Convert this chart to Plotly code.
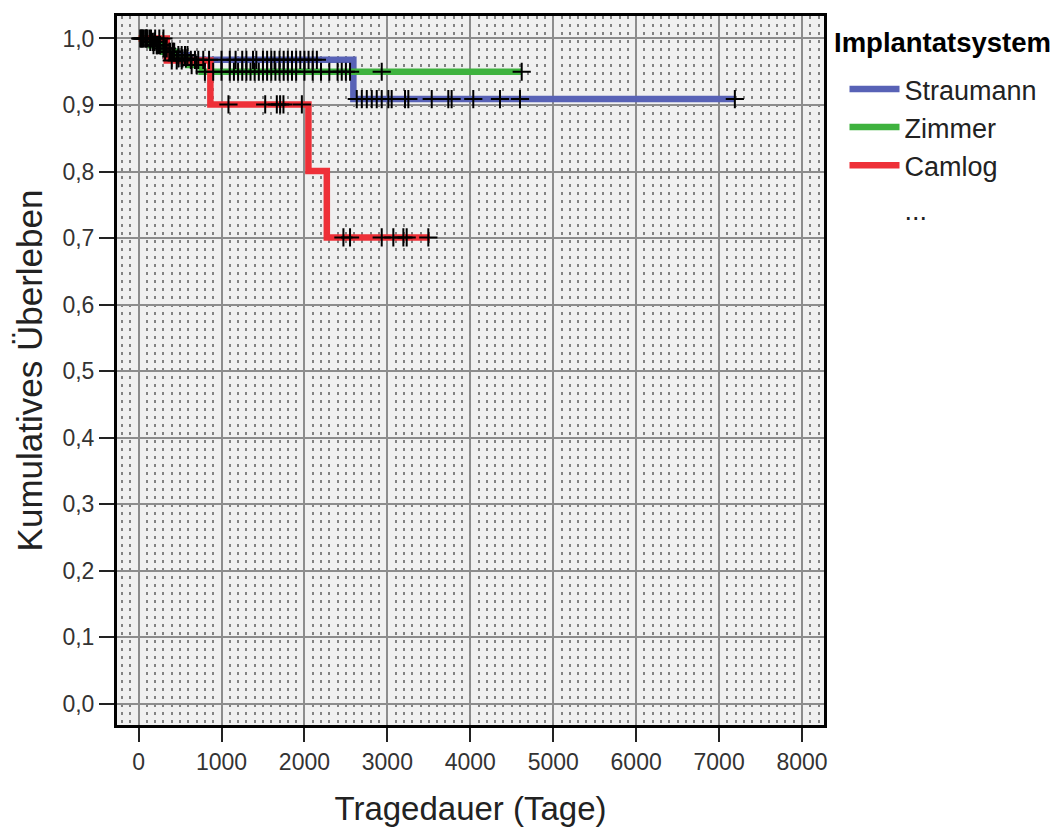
import numpy as np
import plotly.graph_objects as go

# ---- data ----
groups = ["Straumann", "Zimmer", "Camlog"]
colors = ["rgb(88,98,182)", "rgb(62,178,62)", "rgb(238,48,56)"]

straumann_times = [0, 120, 200, 280, 350, 450, 600, 2590]
straumann_surv = [1.0, 0.995, 0.99, 0.985, 0.98, 0.975, 0.968, 0.909]
straumann_end = 7190
straumann_censor = [20, 50, 80, 100, 140, 170, 190, 220, 240, 260, 300, 320, 340, 380, 410, 430,
                    480, 520, 560, 590, 630, 680, 720, 780, 850, 1000, 1100, 1170, 1250, 1300,
                    1380, 1420, 1500, 1550, 1600, 1640, 1700, 1750, 1800, 1850, 1900, 1950, 2000,
                    2050, 2100, 2150, 2631, 2692, 2752, 2812, 2872, 2932, 3012, 3052, 3213, 3253,
                    3535, 3735, 3775, 4036, 4358, 4599, 7190]

zimmer_times = [0, 150, 300, 450, 600, 760]
zimmer_surv = [1.0, 0.99, 0.98, 0.97, 0.96, 0.95]
zimmer_end = 4620
zimmer_censor = [30, 60, 90, 130, 180, 220, 260, 320, 370, 420, 480, 530, 570, 640, 700,
                 800, 900, 1000, 1100, 1150, 1200, 1250, 1300, 1350, 1400, 1450, 1500, 1550,
                 1600, 1650, 1700, 1750, 1800, 1850, 1900, 2000, 2100, 2200, 2300, 2400, 2450,
                 2500, 2550, 2932, 4620]

camlog_times = [0, 340, 866, 2048, 2270]
camlog_surv = [1.0, 0.967, 0.901, 0.801, 0.701]
camlog_end = 3514
camlog_censor = [40, 100, 150, 200, 250, 300, 400, 460, 520, 1084, 1527, 1667, 1707, 1747,
                 1969, 2470, 2550, 2932, 3072, 3193, 3233, 3494]

all_times = [straumann_times, zimmer_times, camlog_times]
all_surv = [straumann_surv, zimmer_surv, camlog_surv]
all_end = [straumann_end, zimmer_end, camlog_end]
all_censor = [straumann_censor, zimmer_censor, camlog_censor]

x_ticks = list(range(0, 8001, 1000))
y_ticks = [round(v * 0.1, 1) for v in range(0, 11)]

legend_title = "Implantatsystem"
x_title = "Tragedauer (Tage)"
y_title = "Kumulatives Überleben"

fig = go.Figure()

for name, col, t, s, end in zip(groups, colors, all_times, all_surv, all_end):
    fig.add_trace(go.Scatter(
        x=t + [end], y=s + [s[-1]], mode="lines", name=name, legendgroup="curves",
        line=dict(color=col, width=6.5, shape="hv"),
        hoverinfo="skip"))

# placeholder legend entry "..."
fig.add_trace(go.Scatter(x=[None], y=[None], mode="lines", name="...", legendgroup="more",
                         line=dict(color="rgba(0,0,0,0)", width=1)))

for t, s, cens in zip(all_times, all_surv, all_censor):
    tt = np.array(t)
    ss = np.array(s)
    idx = np.searchsorted(tt, np.array(cens), side="right") - 1
    fig.add_trace(go.Scatter(
        x=cens, y=ss[idx], mode="markers", showlegend=False,
        marker=dict(symbol="cross-thin", size=13, color="black",
                    line=dict(color="black", width=2)),
        hoverinfo="skip"))

fig.update_layout(
    width=1061, height=827,
    margin=dict(l=117, r=237, t=16, b=102),
    paper_bgcolor="white", plot_bgcolor="rgb(240,240,240)",
    separators=",.",
    font=dict(family="Liberation Sans, Arial, sans-serif", color="#222"),
    legend=dict(
        x=1.029, y=0.931, xanchor="left", yanchor="top",
        font=dict(size=27, color="#222"), itemwidth=50,
        bgcolor="rgba(0,0,0,0)", tracegroupgap=6),
    showlegend=True,
    annotations=[dict(text="<b>" + legend_title + "</b>", xref="paper", yref="paper",
                      x=1.011, y=0.962, xanchor="left", yanchor="middle", showarrow=False,
                      font=dict(size=27.5, color="black"))],
)

fig.update_xaxes(
    range=[-260, 8265], tickvals=x_ticks, ticktext=[str(v) for v in x_ticks],
    showline=True, linecolor="black", linewidth=3, mirror=True,
    ticks="outside", ticklen=14, tickwidth=2, tickcolor="#222",
    tickfont=dict(size=23, color="#333"),
    showgrid=True, gridcolor="rgb(140,140,140)", gridwidth=1.5, zeroline=False,
    minor=dict(dtick=100, showgrid=True, gridcolor="rgb(130,130,130)", gridwidth=1.5,
               griddash="3px,5px", ticks=""),
    automargin=False,
    title=dict(text=x_title, font=dict(size=33, color="#222"), standoff=24),
)
fig.update_yaxes(
    range=[-0.0316, 1.0338], tickvals=y_ticks, tickformat=".1f",
    showline=True, linecolor="black", linewidth=3, mirror=True,
    ticks="outside", ticklen=15, tickwidth=2, tickcolor="#222",
    tickfont=dict(size=23, color="#333"),
    showgrid=True, gridcolor="rgb(140,140,140)", gridwidth=1.5, zeroline=False,
    automargin=False,
    title=dict(text=y_title, font=dict(size=35, color="#222"), standoff=10),
)

fig.write_html("out.html")
